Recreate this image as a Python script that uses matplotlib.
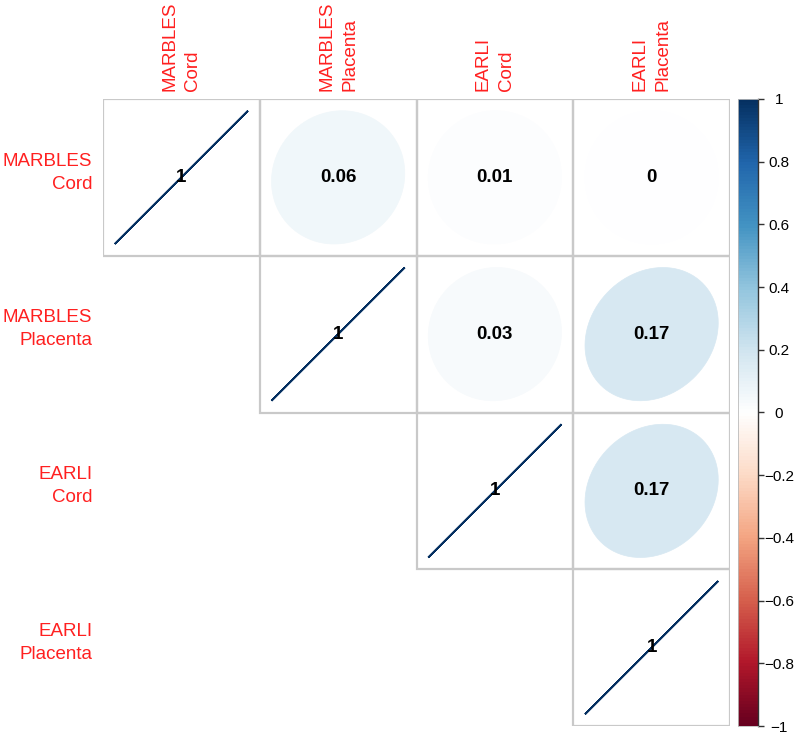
import numpy as np
import matplotlib
matplotlib.use("Agg")
import matplotlib.pyplot as plt
from matplotlib.colors import LinearSegmentedColormap
from matplotlib.patches import Polygon, Rectangle

plt.rcParams['font.family'] = ['Liberation Sans', 'DejaVu Sans']

# ---- data ----
labels = ["MARBLES\nCord", "MARBLES\nPlacenta", "EARLI\nCord", "EARLI\nPlacenta"]
row_mc = [1.00, 0.06, 0.01, 0.00]
row_mp = [None, 1.00, 0.03, 0.17]
row_ec = [None, None, 1.00, 0.17]
row_ep = [None, None, None, 1.00]
value_text_mc = ["1", "0.06", "0.01", "0"]
value_text_mp = [None, "1", "0.03", "0.17"]
value_text_ec = [None, None, "1", "0.17"]
value_text_ep = [None, None, None, "1"]
cbar_ticks = [1, 0.8, 0.6, 0.4, 0.2, 0, -0.2, -0.4, -0.6, -0.8, -1]
cbar_ticklabels = ["1", "0.8", "0.6", "0.4", "0.2", "0", "\u22120.2", "\u22120.4", "\u22120.6", "\u22120.8", "\u22121"]

rows = [row_mc, row_mp, row_ec, row_ep]
texts = [value_text_mc, value_text_mp, value_text_ec, value_text_ep]

pal = ["#67001F", "#B2182B", "#D6604D", "#F4A582", "#FDDBC7", "#FFFFFF",
       "#D1E5F0", "#92C5DE", "#4393C3", "#2166AC", "#053061"]
cmap = LinearSegmentedColormap.from_list("corrRdBu", pal, N=200)

W, H = 797, 734
fig = plt.figure(figsize=(W / 100, H / 100), dpi=100)

gx0, gx1 = 103, 730
gy0, gy1 = 99, 726
ax = fig.add_axes([gx0 / W, 1 - gy1 / H, (gx1 - gx0) / W, (gy1 - gy0) / H])
ax.set_xlim(0, 4)
ax.set_ylim(4, 0)
ax.axis('off')

n = len(labels)
k = np.linspace(0, 2 * np.pi, 99)
for i in range(n):
    for j in range(n):
        r = rows[i][j]
        if r is None:
            continue
        ax.add_patch(Rectangle((j, i), 1, 1, fill=False, edgecolor="#c9c9c9",
                               linewidth=1.6, zorder=1))
        a = np.arccos(np.clip(r, -1, 1)) / 2
        ex = np.cos(k + a) / 2 * 0.85
        ey = np.cos(k - a) / 2 * 0.85
        cx, cy = j + 0.5, i + 0.5
        col = cmap((r + 1) / 2)
        lw = 1.3 if abs(r) > 0.99 else 0.5
        ax.add_patch(Polygon(np.column_stack([cx + ex, cy - ey]), closed=True,
                             facecolor=col, edgecolor=col, linewidth=lw, zorder=2))
        ax.text(cx, cy, texts[i][j], ha='center', va='center', fontsize=13.5,
                fontweight='bold', color='black', zorder=3)

# labels
for i, lab in enumerate(labels):
    ax.text(-0.068, i + 0.47, lab, ha='right', va='center', multialignment='right',
            color='#FF2020', fontsize=13.5, linespacing=1.45)
    ax.text(i + 0.5, -0.05, lab, ha='center', va='bottom', rotation=90,
            multialignment='left', color='#FF2020', fontsize=13.5, linespacing=1.45)

# colorbar
cx0, cx1 = 738, 758
cax = fig.add_axes([cx0 / W, 1 - gy1 / H, (cx1 - cx0) / W, (gy1 - gy0) / H])
grad = np.linspace(-1, 1, 200).reshape(-1, 1)
cax.imshow(grad, cmap=cmap, aspect='auto', origin='lower', extent=[0, 1, -1, 1],
           vmin=-1, vmax=1)
cax.set_xlim(0, 1)
cax.set_ylim(-1, 1)
cax.set_xticks([])
cax.yaxis.tick_right()
cax.set_yticks(cbar_ticks)
cax.set_yticklabels(cbar_ticklabels, fontsize=11, ha='center')
cax.tick_params(axis='y', length=4, width=1, color='#333333', pad=11)
for s in ['left', 'top', 'bottom']:
    cax.spines[s].set_color('#bbbbbb')
    cax.spines[s].set_linewidth(0.6)
cax.spines['right'].set_color('#333333')
cax.spines['right'].set_linewidth(1.0)

fig.savefig("out.png", dpi=100)
